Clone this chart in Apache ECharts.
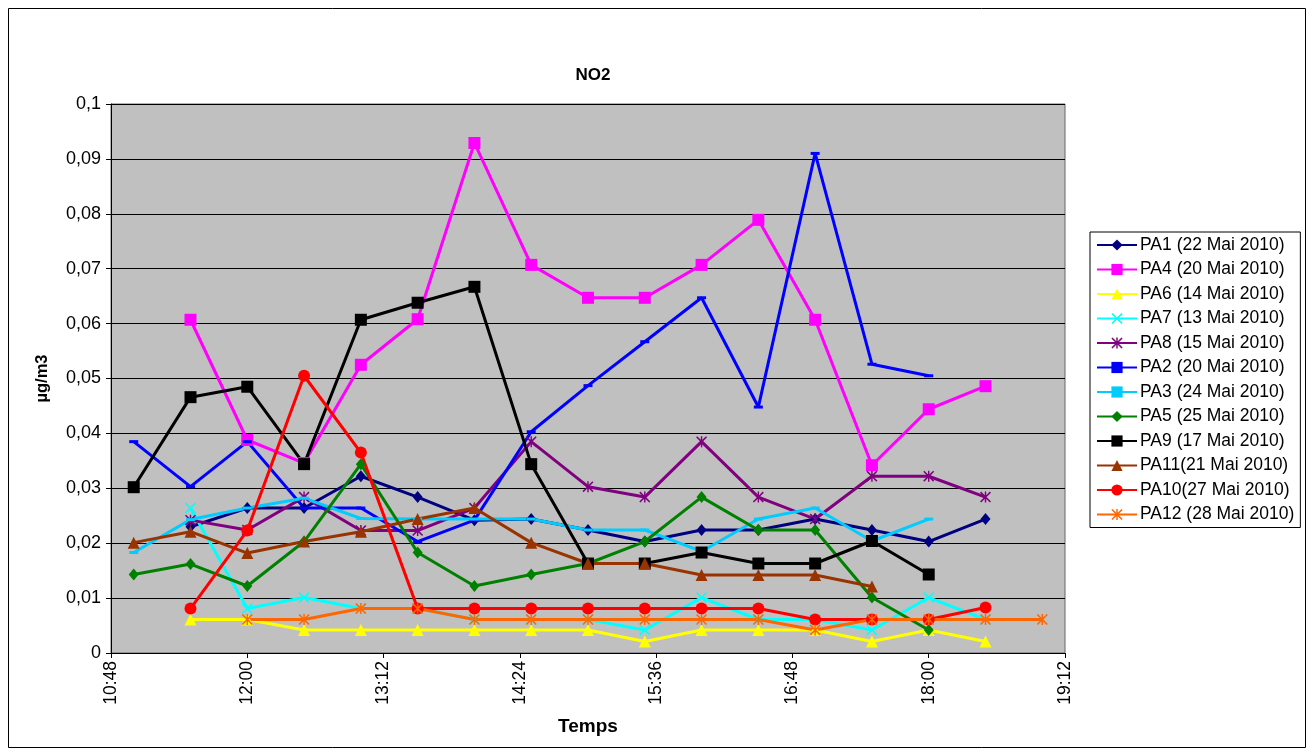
<!DOCTYPE html>
<html>
<head>
<meta charset="utf-8">
<title>NO2</title>
<script src="https://cdn.jsdelivr.net/npm/echarts@6/dist/echarts.min.js"></script>
<style>
  html, body { margin: 0; padding: 0; background: #fff; }
  #chart { width: 1314px; height: 753px; }
</style>
</head>
<body>
<div id="chart"></div>
<script>
// Sampling times (every 30 minutes)
const times = ['11:00', '11:30', '12:00', '12:30', '13:00', '13:30', '14:00', '14:30',
  '15:00', '15:30', '16:00', '16:30', '17:00', '17:30', '18:00', '18:30', '19:00'];

// NO2 concentrations (µg/m3) per sampling point; null = no measurement
const PA1  = [null, 0.0230, 0.0264, 0.0264, 0.0322, 0.0284, 0.0242, 0.0244, 0.0224, 0.0203, 0.0224, 0.0224, 0.0244, 0.0224, 0.0203, 0.0244, null];
const PA4  = [null, 0.0607, 0.0388, 0.0346, 0.0525, 0.0608, 0.0929, 0.0707, 0.0647, 0.0647, 0.0707, 0.0789, 0.0607, 0.0342, 0.0444, 0.0486, null];
const PA6  = [null, 0.0061, 0.0061, 0.0042, 0.0042, 0.0042, 0.0042, 0.0042, 0.0042, 0.0021, 0.0042, 0.0042, 0.0042, 0.0021, 0.0042, 0.0021, null];
const PA7  = [null, 0.0264, 0.0081, 0.0101, 0.0081, 0.0081, 0.0061, 0.0061, 0.0061, 0.0042, 0.0101, 0.0061, 0.0061, 0.0042, 0.0101, 0.0061, null];
const PA8  = [null, 0.0242, 0.0224, 0.0284, 0.0223, 0.0223, 0.0264, 0.0385, 0.0303, 0.0284, 0.0385, 0.0284, 0.0244, 0.0322, 0.0322, 0.0284, null];
const PA2  = [0.0385, 0.0303, 0.0385, 0.0264, 0.0264, 0.0203, 0.0242, 0.0403, 0.0487, 0.0567, 0.0647, 0.0448, 0.0910, 0.0526, 0.0505, null, null];
const PA3  = [0.0183, 0.0243, 0.0264, 0.0282, 0.0245, 0.0244, 0.0244, 0.0244, 0.0224, 0.0224, 0.0185, 0.0244, 0.0264, 0.0204, 0.0244, null, null];
const PA5  = [0.0143, 0.0162, 0.0122, 0.0203, 0.0344, 0.0183, 0.0122, 0.0143, 0.0163, 0.0203, 0.0284, 0.0224, 0.0224, 0.0101, 0.0042, null, null];
const PA9  = [0.0302, 0.0466, 0.0485, 0.0344, 0.0607, 0.0638, 0.0667, 0.0344, 0.0163, 0.0163, 0.0183, 0.0163, 0.0163, 0.0204, 0.0143, null, null];
const PA11 = [0.0201, 0.0221, 0.0182, 0.0203, 0.0221, 0.0244, 0.0264, 0.0201, 0.0163, 0.0163, 0.0142, 0.0142, 0.0142, 0.0121, null, null, null];
const PA10 = [null, 0.0081, 0.0223, 0.0505, 0.0365, 0.0081, 0.0081, 0.0081, 0.0081, 0.0081, 0.0081, 0.0081, 0.0061, 0.0061, 0.0061, 0.0083, null];
const PA12 = [null, null, 0.0061, 0.0061, 0.0081, 0.0081, 0.0061, 0.0061, 0.0061, 0.0061, 0.0061, 0.0061, 0.0042, 0.0061, 0.0061, 0.0061, 0.0061];

// Axis range in minutes since midnight: 10:48 .. 19:12, ticks every 1h12
const X_MIN = 648, X_MAX = 1152, X_STEP = 72;

const toMinutes = t => { const [h, m] = t.split(':').map(Number); return h * 60 + m; };
const fmtTime = v => { const h = Math.floor(v / 60), m = Math.round(v % 60); return h + ':' + (m < 10 ? '0' : '') + m; };
const pair = arr => arr.map((v, i) => [toMinutes(times[i]), v]);

const FONT = 'Arial, "Liberation Sans", sans-serif';

// Marker shapes
const X_MARK = 'path://M0,1 L1,0 L5,4 L9,0 L10,1 L6,5 L10,9 L9,10 L5,6 L1,10 L0,9 L4,5 Z';
const STAR_MARK = 'path://M0,1 L1,0 L5,4 L9,0 L10,1 L6,5 L10,9 L9,10 L5,6 L1,10 L0,9 L4,5 Z M4.35,0 L5.65,0 L5.65,10 L4.35,10 Z';
const DASH_MARK = 'path://M0,0 L10,0 L10,3.2 L0,3.2 Z';

const seriesDefs = [
  { name: 'PA1 (22 Mai 2010)', data: PA1,  color: '#000080', symbol: 'diamond',  size: [10, 12] },
  { name: 'PA4 (20 Mai 2010)', data: PA4,  color: '#FF00FF', symbol: 'rect',     size: 12 },
  { name: 'PA6 (14 Mai 2010)', data: PA6,  color: '#FFFF00', symbol: 'triangle', size: 12 },
  { name: 'PA7 (13 Mai 2010)', data: PA7,  color: '#00FFFF', symbol: X_MARK,     size: 11 },
  { name: 'PA8 (15 Mai 2010)', data: PA8,  color: '#800080', symbol: STAR_MARK,  size: 11 },
  { name: 'PA2 (20 Mai 2010)', data: PA2,  color: '#0000FF', symbol: DASH_MARK,  size: [9, 3] },
  { name: 'PA3 (24 Mai 2010)', data: PA3,  color: '#00CCFF', symbol: DASH_MARK,  size: [9, 3] },
  { name: 'PA5 (25 Mai 2010)', data: PA5,  color: '#008000', symbol: 'diamond',  size: [10, 12] },
  { name: 'PA9 (17 Mai 2010)', data: PA9,  color: '#000000', symbol: 'rect',     size: 12 },
  { name: 'PA11(21 Mai 2010)', data: PA11, color: '#993300', symbol: 'triangle', size: 12 },
  { name: 'PA10(27 Mai 2010)', data: PA10, color: '#FF0000', symbol: 'circle',   size: 12 },
  { name: 'PA12 (28 Mai 2010)', data: PA12, color: '#FF6600', symbol: STAR_MARK, size: 11 }
];

const chart = echarts.init(document.getElementById('chart'), null, { renderer: 'canvas' });

chart.setOption({
  animation: false,
  backgroundColor: '#FFFFFF',
  title: {
    text: 'NO2',
    left: 588, top: 62, textAlign: 'center',
    textStyle: { fontFamily: FONT, fontSize: 17, fontWeight: 'bold', color: '#000' }
  },
  grid: {
    left: 111, right: 249, top: 104, bottom: 100,
    show: true, backgroundColor: '#C0C0C0', borderColor: '#666666', borderWidth: 1
  },
  legend: {
    orient: 'vertical',
    left: 1090, top: 232,
    padding: [4, 6, 4, 6],
    itemGap: 6.5,
    itemWidth: 40, itemHeight: 14,
    symbolKeepAspect: true,
    borderColor: '#000', borderWidth: 1,
    backgroundColor: '#FFFFFF',
    textStyle: { fontFamily: FONT, fontSize: 17.5, color: '#000', padding: [0, 0, 0, -2] },
    data: seriesDefs.map(s => s.name)
  },
  xAxis: {
    type: 'value',
    min: X_MIN, max: X_MAX, interval: X_STEP,
    name: 'Temps', nameLocation: 'middle', nameGap: 64,
    nameTextStyle: { fontFamily: FONT, fontSize: 19, fontWeight: 'bold', color: '#000' },
    axisLine: { show: true, onZero: false, lineStyle: { color: '#000', width: 1 } },
    axisTick: { show: true, inside: false, length: 5, lineStyle: { color: '#000' } },
    axisLabel: {
      rotate: 90, margin: 8, fontFamily: FONT, fontSize: 17.5, color: '#000',
      formatter: v => fmtTime(v)
    },
    splitLine: { show: false }
  },
  yAxis: {
    type: 'value',
    min: 0, max: 0.1, interval: 0.01,
    name: 'µg/m3', nameLocation: 'middle', nameGap: 60, nameRotate: 90,
    nameTextStyle: { fontFamily: FONT, fontSize: 16.5, fontWeight: 'bold', color: '#000' },
    axisLine: { show: true, lineStyle: { color: '#000', width: 1 } },
    axisTick: { show: true, inside: false, length: 5, lineStyle: { color: '#000' } },
    axisLabel: {
      margin: 10, fontFamily: FONT, fontSize: 18, color: '#000',
      formatter: v => { const r = Math.round(v * 100) / 100; return r === 0 ? '0' : String(r).replace('.', ','); }
    },
    splitLine: { show: true, lineStyle: { color: '#000', width: 1 } }
  },
  series: seriesDefs.map(s => ({
    name: s.name,
    type: 'line',
    data: pair(s.data),
    connectNulls: false,
    symbol: s.symbol,
    symbolSize: s.size,
    showSymbol: true,
    lineStyle: { color: s.color, width: 3 },
    itemStyle: { color: s.color, borderWidth: 0 },
    emphasis: { disabled: true },
    z: 2
  })),
  graphic: [{
    type: 'rect',
    shape: { x: 8.5, y: 8.5, width: 1297, height: 739 },
    style: { fill: 'none', stroke: '#000', lineWidth: 1 },
    silent: true
  }]
});
</script>
</body>
</html>
